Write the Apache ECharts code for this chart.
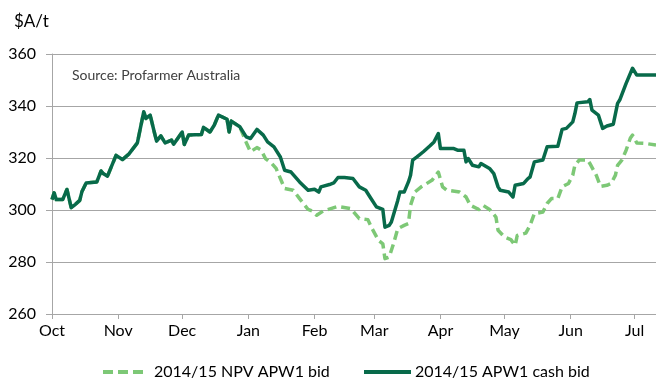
<!DOCTYPE html>
<html>
<head>
<meta charset="utf-8">
<script src="https://cdn.jsdelivr.net/npm/echarts@6/dist/echarts.min.js"></script>
<style>
  html, body { margin: 0; padding: 0; background: #fff; }
  #chart { width: 656px; height: 380px; }
</style>
</head>
<body>
<div id="chart"></div>
<script>
// Season start: day 0 of the x axis
const seasonStart = '2014-10-01';

// Month tick positions and labels
const monthStarts = ['2014-10-01', '2014-11-01', '2014-12-01', '2015-01-01', '2015-02-01',
  '2015-03-01', '2015-04-01', '2015-05-01', '2015-06-01', '2015-07-01'];
const monthLabels = ['Oct', 'Nov', 'Dec', 'Jan', 'Feb', 'Mar', 'Apr', 'May', 'Jun', 'Jul'];

// Y axis ticks ($A/t)
const yTicks = [260, 280, 300, 320, 340, 360];

// Oct–Dec: both bids moved together
const sharedDates = ['2014-10-01', '2014-10-02', '2014-10-03', '2014-10-06', '2014-10-08', '2014-10-10',
  '2014-10-12', '2014-10-14', '2014-10-15', '2014-10-17', '2014-10-22', '2014-10-24', '2014-10-25',
  '2014-10-27', '2014-10-31', '2014-11-03', '2014-11-06', '2014-11-10', '2014-11-13', '2014-11-14',
  '2014-11-16', '2014-11-18', '2014-11-19', '2014-11-21', '2014-11-23', '2014-11-26', '2014-11-27',
  '2014-12-01', '2014-12-02', '2014-12-04', '2014-12-10', '2014-12-11', '2014-12-14', '2014-12-16',
  '2014-12-18', '2014-12-22', '2014-12-23', '2014-12-24', '2014-12-28'];
const sharedBid = [304, 306.6, 304, 304, 307.9, 300.9,
  302.2, 303.7, 307, 310.4, 310.8, 315, 314,
  313, 321, 319.4, 321.5, 325.8, 337.8, 335.2,
  336.5, 329.7, 326.5, 328.5, 325.8, 326.9, 325.3,
  330, 325.2, 328.8, 329, 331.8, 330, 332.6,
  336.5, 334.9, 330, 334.2, 332];

// 2014/15 APW1 cash bid from late December
const cashDates = ['2014-12-31', '2015-01-02', '2015-01-05', '2015-01-08', '2015-01-10', '2015-01-13',
  '2015-01-16', '2015-01-18', '2015-01-21', '2015-01-25', '2015-01-29', '2015-02-01', '2015-02-03',
  '2015-02-04', '2015-02-08', '2015-02-10', '2015-02-12', '2015-02-15', '2015-02-19', '2015-02-22',
  '2015-02-25', '2015-02-27', '2015-03-02', '2015-03-05', '2015-03-06', '2015-03-08', '2015-03-09',
  '2015-03-12', '2015-03-13', '2015-03-15', '2015-03-17', '2015-03-18', '2015-03-19', '2015-03-21',
  '2015-03-24', '2015-03-27', '2015-03-29', '2015-03-31', '2015-04-01', '2015-04-07', '2015-04-09',
  '2015-04-12', '2015-04-13', '2015-04-14', '2015-04-16', '2015-04-19', '2015-04-20', '2015-04-24',
  '2015-04-26', '2015-04-28', '2015-04-29', '2015-05-03', '2015-05-05', '2015-05-06', '2015-05-10',
  '2015-05-12', '2015-05-13', '2015-05-15', '2015-05-19', '2015-05-21', '2015-05-26', '2015-05-28',
  '2015-05-30', '2015-06-02', '2015-06-03', '2015-06-04', '2015-06-09', '2015-06-10', '2015-06-11',
  '2015-06-14', '2015-06-16', '2015-06-18', '2015-06-21', '2015-06-23', '2015-06-24', '2015-06-27',
  '2015-06-30', '2015-07-02', '2015-07-11'];
const cashBid = [328.1, 327.5, 331, 328.8, 326.2, 324.3,
  320.4, 315.3, 314.6, 310.8, 307.6, 308, 306.9,
  308.9, 309.8, 310.4, 312.5, 312.5, 312.1, 308.9,
  307.6, 305, 301.2, 300.2, 293.4, 294.1, 295.4,
  303.7, 306.9, 306.9, 310.8, 313.4, 319.2, 320.4,
  322.4, 324.6, 326.2, 329.4, 323.7, 323.7, 323,
  323, 318.5, 319.8, 317.2, 316.6, 317.9, 316,
  314, 308.9, 307.6, 306.9, 305, 309.5, 310.2,
  312.1, 312.7, 318.5, 319.2, 324.3, 324.5, 331,
  331.4, 333.9, 337.1, 341.2, 341.6, 342.5, 338.4,
  336.5, 331.4, 332.3, 333, 341, 342.3, 348.7,
  354.5, 351.9, 351.9];

// 2014/15 NPV APW1 bid from late December
const npvDates = ['2014-12-31', '2015-01-02', '2015-01-05', '2015-01-07', '2015-01-09', '2015-01-12',
  '2015-01-14', '2015-01-16', '2015-01-18', '2015-01-22', '2015-01-25', '2015-01-29', '2015-01-31',
  '2015-02-02', '2015-02-05', '2015-02-12', '2015-02-18', '2015-02-22', '2015-02-26', '2015-02-28',
  '2015-03-03', '2015-03-05', '2015-03-06', '2015-03-08', '2015-03-10', '2015-03-12', '2015-03-15',
  '2015-03-17', '2015-03-18', '2015-03-20', '2015-03-23', '2015-03-28', '2015-03-31', '2015-04-02',
  '2015-04-04', '2015-04-10', '2015-04-13', '2015-04-15', '2015-04-19', '2015-04-21', '2015-04-24',
  '2015-04-27', '2015-04-28', '2015-05-01', '2015-05-04', '2015-05-06', '2015-05-07', '2015-05-11',
  '2015-05-13', '2015-05-15', '2015-05-19', '2015-05-21', '2015-05-23', '2015-05-26', '2015-05-28',
  '2015-05-31', '2015-06-02', '2015-06-03', '2015-06-05', '2015-06-09', '2015-06-10', '2015-06-13',
  '2015-06-15', '2015-06-18', '2015-06-20', '2015-06-22', '2015-06-23', '2015-06-25', '2015-06-27',
  '2015-06-29', '2015-06-30', '2015-07-02', '2015-07-06', '2015-07-11'];
const npvBid = [326, 322.4, 324, 323, 319.8, 317.9,
  316, 312.1, 308.3, 307.6, 304.4, 300.2, 299.6,
  298, 299.6, 301.4, 300.5, 296.7, 296.3, 292.8,
  288.3, 287, 281.3, 281.9, 287, 292.8, 294.1,
  294.8, 301.8, 306.9, 308.9, 311.4, 314.6, 308.9,
  307.6, 306.9, 305, 301.8, 300.2, 301.8, 300.2,
  297.3, 292.2, 289.6, 288.6, 286.4, 290.2, 291.1,
  294.1, 298.6, 299.2, 302.5, 304.4, 304.4, 308.9,
  310.2, 313.4, 317.2, 319.2, 319.2, 317.9, 313.4,
  309.1, 309.5, 310.2, 313.4, 317.2, 319.2, 323,
  327.7, 328.8, 325.8, 325.6, 325];

const NPV_NAME = '2014/15 NPV APW1 bid';
const CASH_NAME = '2014/15 APW1 cash bid';

// Convert an ISO date to whole days after the season start
function dayOf(iso) {
  const p = iso.split('-').map(Number);
  const s = seasonStart.split('-').map(Number);
  return Math.round((Date.UTC(p[0], p[1] - 1, p[2]) - Date.UTC(s[0], s[1] - 1, s[2])) / 86400000);
}
function pairs(dates, values) {
  return dates.map((d, i) => [dayOf(d), values[i]]);
}

const tickDays = monthStarts.map(dayOf);
const labelByDay = {};
tickDays.forEach((d, i) => { labelByDay[d] = monthLabels[i]; });

const FONT = 'Lato, "DejaVu Sans", sans-serif';
const GRID_GRAY = '#a6a6a6';
const NPV_GREEN = '#7dc876';
const CASH_GREEN = '#086a4a';

// Legend keys: three short dashes for the NPV bid, one bar for the cash bid
const DASH_ICON = 'path://M0,0h10v4h-10z M15,0h10v4h-10z M30,0h10v4h-10z';

const chart = echarts.init(document.getElementById('chart'), null, { renderer: 'canvas' });
chart.setOption({
  animation: false,
  backgroundColor: '#ffffff',
  textStyle: { fontFamily: FONT },
  title: [
    { text: '$A/t', left: 9, top: 8,
      textStyle: { fontFamily: FONT, fontSize: 17, fontWeight: 'normal', color: '#000' } },
    { text: 'Source: Profarmer Australia', left: 67, top: 63,
      textStyle: { fontFamily: FONT, fontSize: 14, fontWeight: 'normal', color: '#404040' } }
  ],
  legend: [
    { data: [{ name: NPV_NAME, icon: DASH_ICON, itemStyle: { color: NPV_GREEN, borderWidth: 0 } }],
      left: 98, top: 359, itemWidth: 40, itemHeight: 4, itemGap: 11,
      textStyle: { fontFamily: FONT, fontSize: 16, color: '#000', padding: [0, 0, 0, 6] } },
    { data: [{ name: CASH_NAME, icon: 'rect', itemStyle: { color: CASH_GREEN, borderWidth: 0 } }],
      left: 359, top: 359, itemWidth: 47, itemHeight: 4,
      textStyle: { fontFamily: FONT, fontSize: 16, color: '#000', padding: [0, 0, 0, -1] } }
  ],
  grid: { left: 52, right: 0, top: 54, bottom: 66, containLabel: false },
  xAxis: {
    type: 'value',
    min: 0,
    max: 283,
    axisLine: { show: true, lineStyle: { color: GRID_GRAY, width: 1 } },
    axisTick: { show: true, customValues: tickDays, length: 5, lineStyle: { color: GRID_GRAY } },
    axisLabel: {
      customValues: tickDays,
      formatter: (v) => labelByDay[Math.round(v)] || '',
      fontFamily: FONT, fontSize: 16, color: '#000', margin: 9
    },
    splitLine: { show: false }
  },
  yAxis: {
    type: 'value',
    min: yTicks[0],
    max: yTicks[yTicks.length - 1],
    interval: 20,
    axisLine: { show: true, lineStyle: { color: GRID_GRAY, width: 1 } },
    axisTick: { show: true, length: 6, lineStyle: { color: GRID_GRAY } },
    axisLabel: { fontFamily: FONT, fontSize: 16, color: '#000', margin: 16 },
    splitLine: { show: true, lineStyle: { color: GRID_GRAY, width: 1 } }
  },
  series: [
    {
      name: NPV_NAME,
      type: 'line',
      showSymbol: false,
      symbol: 'none',
      data: pairs(sharedDates, sharedBid).concat(pairs(npvDates, npvBid)),
      lineStyle: { color: NPV_GREEN, width: 3.5, type: [9, 5], cap: 'butt', join: 'round' },
      itemStyle: { color: NPV_GREEN },
      z: 2
    },
    {
      name: CASH_NAME,
      type: 'line',
      showSymbol: false,
      symbol: 'none',
      data: pairs(sharedDates, sharedBid).concat(pairs(cashDates, cashBid)),
      lineStyle: { color: CASH_GREEN, width: 3.5, join: 'round' },
      itemStyle: { color: CASH_GREEN },
      z: 3
    }
  ]
});
</script>
</body>
</html>
